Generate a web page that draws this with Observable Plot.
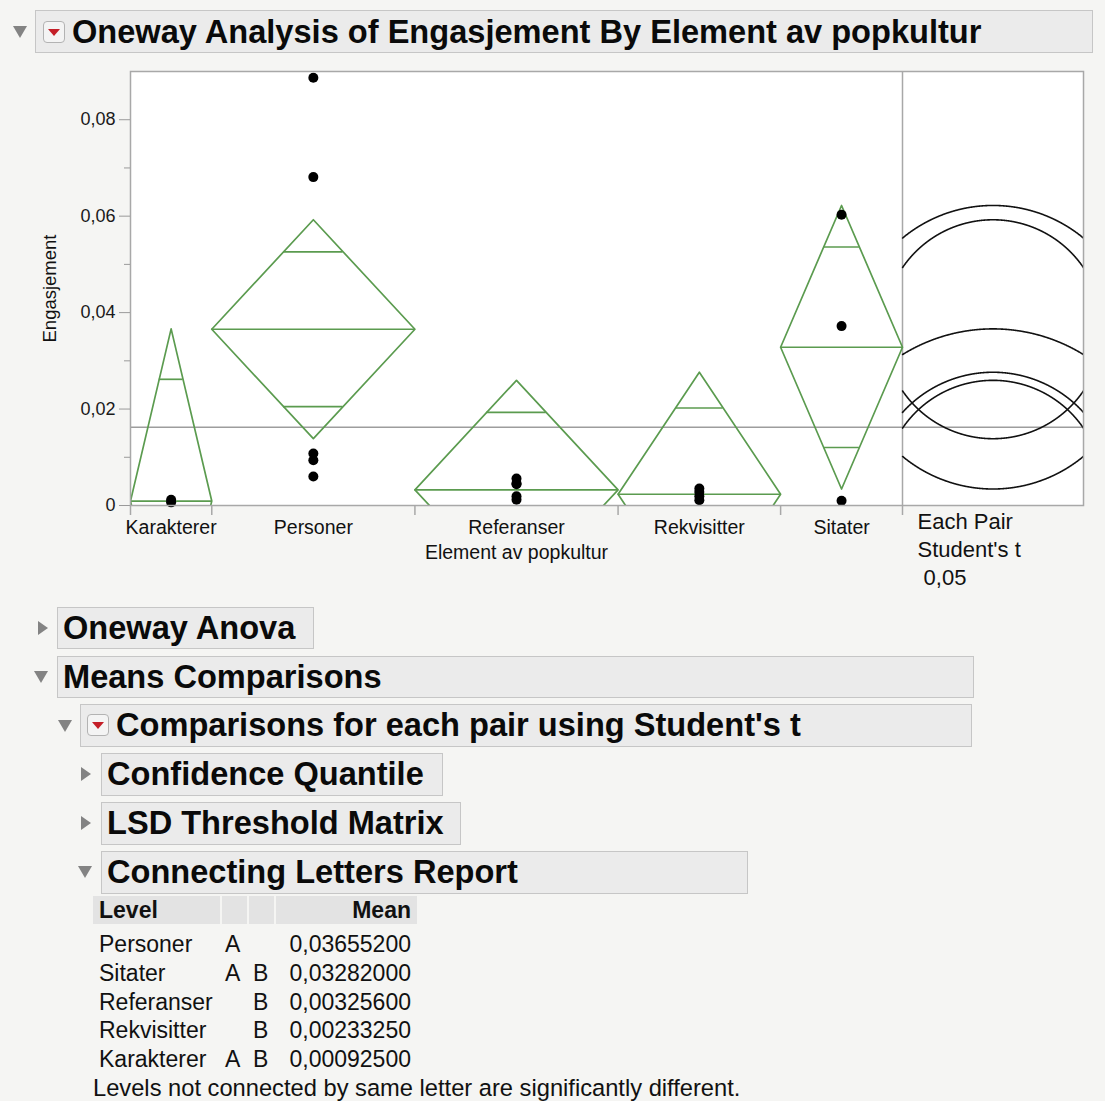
<!DOCTYPE html>
<html><head><meta charset="utf-8">
<script src="https://cdn.jsdelivr.net/npm/d3@7"></script>
<script src="https://cdn.jsdelivr.net/npm/@observablehq/plot@0.6"></script>
<style>
html,body{margin:0;padding:0;background:#f5f5f3;}
body{width:1105px;height:1101px;position:relative;overflow:hidden;font-family:"Liberation Sans",Arial,Helvetica,sans-serif;color:#111;}
.box{position:absolute;background:#ebebeb;border:1px solid #c6c6c6;box-sizing:border-box;}
.ht{position:absolute;font-weight:bold;font-size:32.6px;white-space:nowrap;line-height:1;color:#0a0a0a;}
.tri-down{position:absolute;width:0;height:0;border-left:7px solid transparent;border-right:7px solid transparent;border-top:12px solid #838383;}
.tri-right{position:absolute;width:0;height:0;border-top:7px solid transparent;border-bottom:7px solid transparent;border-left:10px solid #838383;}
.icon{position:absolute;width:22px;height:22px;box-sizing:border-box;border:1px solid #b3b3b3;border-radius:4px;background:#f4f4f4;}
.icon::after{content:"";position:absolute;left:4px;top:7px;border-left:6px solid transparent;border-right:6px solid transparent;border-top:7px solid #c41f28;}
#chart{position:absolute;left:0;top:60px;}
.t{position:absolute;font-size:23px;white-space:nowrap;line-height:23px;color:#111;}
.hc{position:absolute;background:#e3e3e3;top:896px;height:28px;}
</style></head>
<body>
<div class="tri-down" style="left:13px;top:26px"></div>
<div class="box" style="left:35px;top:10px;width:1058px;height:43px"></div>
<div class="icon" style="left:43px;top:21px"></div>
<div class="ht" style="left:72px;top:16px">Oneway Analysis of Engasjement By Element av popkultur</div>

<div id="chart"></div>

<div class="tri-right" style="left:38px;top:621px"></div>
<div class="box" style="left:57px;top:607px;width:257px;height:42px"></div>
<div class="ht" style="left:63px;top:612px">Oneway Anova</div>

<div class="tri-down" style="left:34px;top:671px"></div>
<div class="box" style="left:57px;top:656px;width:917px;height:42px"></div>
<div class="ht" style="left:63px;top:661px">Means Comparisons</div>

<div class="tri-down" style="left:58px;top:720px"></div>
<div class="box" style="left:80px;top:704px;width:892px;height:43px"></div>
<div class="icon" style="left:87px;top:714px"></div>
<div class="ht" style="left:116px;top:709px">Comparisons for each pair using Student's t</div>

<div class="tri-right" style="left:81px;top:767px"></div>
<div class="box" style="left:101px;top:753px;width:342px;height:43px"></div>
<div class="ht" style="left:107px;top:758px">Confidence Quantile</div>

<div class="tri-right" style="left:81px;top:816px"></div>
<div class="box" style="left:101px;top:802px;width:360px;height:43px"></div>
<div class="ht" style="left:107px;top:807px">LSD Threshold Matrix</div>

<div class="tri-down" style="left:78px;top:866px"></div>
<div class="box" style="left:101px;top:851px;width:647px;height:43px"></div>
<div class="ht" style="left:107px;top:856px">Connecting Letters Report</div>

<div id="table"></div>

<script>
// ---------- data ----------
const categories = ["Karakterer", "Personer", "Referanser", "Rekvisitter", "Sitater"];
const counts = [2, 5, 5, 4, 3];
const means = [0.000925, 0.036552, 0.003256, 0.0023325, 0.03282];
const ciHalf = [0.0357, 0.0227, 0.0227, 0.0253, 0.0294];

const valuesKarakterer = [0.0012, 0.00065];
const valuesPersoner = [0.0887, 0.0681, 0.0108, 0.0094, 0.0060];
const valuesReferanser = [0.0056, 0.0046, 0.0044, 0.0019, 0.0012];
const valuesRekvisitter = [0.0035, 0.0028, 0.0019, 0.0011];
const valuesSitater = [0.0603, 0.0372, 0.0010];
const pointValues = [valuesKarakterer, valuesPersoner, valuesReferanser, valuesRekvisitter, valuesSitater];

const yTicks = [0, 0.02, 0.04, 0.06, 0.08];
const yMinorTicks = [0.01, 0.03, 0.05, 0.07];
const yMax = 0.09;

const xTitle = "Element av popkultur";
const yTitle = "Engasjement";
const circleNote = "Each Pair\nStudent's t\n 0,05";

const tableLevels = ["Personer", "Sitater", "Referanser", "Rekvisitter", "Karakterer"];
const tableLetterA = ["A", "A", "", "", "A"];
const tableLetterB = ["", "B", "B", "B", "B"];
const tableMeans = ["0,03655200", "0,03282000", "0,00325600", "0,00233250", "0,00092500"];
const tableNote = "Levels not connected by same letter are significantly different.";

// ---------- layout ----------
const W = 1105, H = 540, mL = 130, mR = 22, mT = 11, mB = 95;
const panelPx = 181;
const green = "#5b9b4f";
const nTotal = d3.sum(counts);
const mainPx = W - mL - mR - panelPx;
const panelUnits = panelPx * nTotal / mainPx;
const xMax = nTotal + panelUnits;
const kx = (W - mL - mR) / xMax;
const ky = (H - mT - mB) / yMax;

const starts = d3.cumsum([0, ...counts]).slice(0, counts.length);
const groups = categories.map((c, i) => ({
  cat: c, n: counts[i], start: starts[i], end: starts[i] + counts[i],
  center: starts[i] + counts[i] / 2, mean: means[i], h: ciHalf[i]
}));
const grandMean = d3.sum(groups, g => g.n * g.mean) / nTotal;
const boundaries = [0, ...groups.map(g => g.end)];

const diamondPts = groups.flatMap(g => [
  {cat: g.cat, x: g.start, y: g.mean},
  {cat: g.cat, x: g.center, y: g.mean + g.h},
  {cat: g.cat, x: g.end, y: g.mean},
  {cat: g.cat, x: g.center, y: g.mean - g.h},
  {cat: g.cat, x: g.start, y: g.mean}
]);
const s2 = Math.SQRT1_2;
const overlapLines = groups.flatMap(g => {
  const hw = (g.n / 2) * (1 - s2);
  return [g.mean + g.h * s2, g.mean - g.h * s2].map(y => ({y, x1: g.center - hw, x2: g.center + hw}));
});
const points = groups.flatMap((g, i) => pointValues[i].map(v => ({cat: g.cat, x: g.center, y: v})));

const cx = nTotal + panelUnits / 2;
const N = 2400;
const circlePts = groups.flatMap(g => {
  const rx = g.h * ky / kx;
  return d3.range(N + 1).map(i => {
    const t = 2 * Math.PI * i / N;
    const x = cx + rx * Math.cos(t);
    const y = g.mean + g.h * Math.sin(t);
    const inside = x >= nTotal && x <= xMax;
    return {cat: g.cat, x, y: inside ? y : NaN};
  });
});

const fmt = d => d === 0 ? "0" : d3.format(".2f")(d).replace(".", ",");

const chart = Plot.plot({
  width: W, height: H, marginLeft: mL, marginRight: mR, marginTop: mT, marginBottom: mB,
  x: {domain: [0, xMax], axis: null},
  y: {domain: [0, yMax], axis: null},
  style: {background: "transparent", fontFamily: "Liberation Sans, Arial, sans-serif", color: "#1a1a1a", overflow: "visible"},
  marks: [
    Plot.frame({fill: "white", stroke: null}),
    Plot.ruleY([grandMean], {stroke: "#9d9d9d", strokeWidth: 1.5}),
    Plot.ruleX([nTotal], {stroke: "#a8a8a8", strokeWidth: 1.5}),
    Plot.line(diamondPts, {x: "x", y: "y", z: "cat", stroke: green, strokeWidth: 1.7, clip: true}),
    Plot.ruleY(groups, {y: "mean", x1: "start", x2: "end", stroke: green, strokeWidth: 1.7, clip: true}),
    Plot.ruleY(overlapLines, {y: "y", x1: "x1", x2: "x2", stroke: green, strokeWidth: 1.7, clip: true}),
    Plot.dot(points, {x: "x", y: "y", r: 5, fill: "#000", stroke: null}),
    Plot.line(circlePts, {x: "x", y: "y", z: "cat", stroke: "#111", strokeWidth: 1.6, clip: true}),
    Plot.frame({stroke: "#a8a8a8", strokeWidth: 1.5}),
    Plot.axisY({ticks: yTicks, tickSize: 11, tickPadding: 4, tickFormat: fmt, fontSize: 18, stroke: "#9a9a9a", fill: "#1a1a1a", label: null}),
    Plot.axisY({ticks: yMinorTicks, tickSize: 6, tickFormat: () => "", stroke: "#9a9a9a", label: null}),
    Plot.axisX({ticks: boundaries, tickSize: 10, tickFormat: () => "", stroke: "#a8a8a8", strokeWidth: 1.5, label: null}),
    Plot.text(groups, {x: "center", text: "cat", frameAnchor: "bottom", dy: 28, fontSize: 19.5, fill: "#111"}),
    Plot.text([xTitle], {x: () => nTotal / 2, text: d => d, frameAnchor: "bottom", dy: 53, fontSize: 19.5, fill: "#111"}),
    Plot.text([circleNote], {x: () => nTotal, text: d => d, frameAnchor: "bottom", dx: 15, dy: 4, textAnchor: "start", lineAnchor: "top", lineHeight: 1.27, fontSize: 22, fill: "#111"}),
    Plot.text([yTitle], {text: d => d, frameAnchor: "left", dx: -80, rotate: -90, textAnchor: "middle", fontSize: 18.5, fill: "#111"})
  ]
});
document.getElementById("chart").append(chart);

// ---------- table ----------
const tbl = document.getElementById("table");
function add(cls, style, text) {
  const d = document.createElement("div");
  d.className = cls; d.setAttribute("style", style);
  if (text != null) d.textContent = text;
  tbl.append(d);
}
add("hc", "left:93px;width:127px");
add("hc", "left:222px;width:25px");
add("hc", "left:249px;width:25px");
add("hc", "left:276px;width:141px");
add("t", "left:99px;top:899px;font-weight:bold", "Level");
add("t", "right:694px;top:899px;font-weight:bold", "Mean");
tableLevels.forEach((lv, i) => {
  const top = 933 + i * 28.8;
  add("t", `left:99px;top:${top}px`, lv);
  add("t", `left:225px;top:${top}px`, tableLetterA[i]);
  add("t", `left:253px;top:${top}px`, tableLetterB[i]);
  add("t", `right:694px;top:${top}px`, tableMeans[i]);
});
add("t", "left:93px;top:1077px;font-size:23.7px", tableNote);
</script>
</body></html>
